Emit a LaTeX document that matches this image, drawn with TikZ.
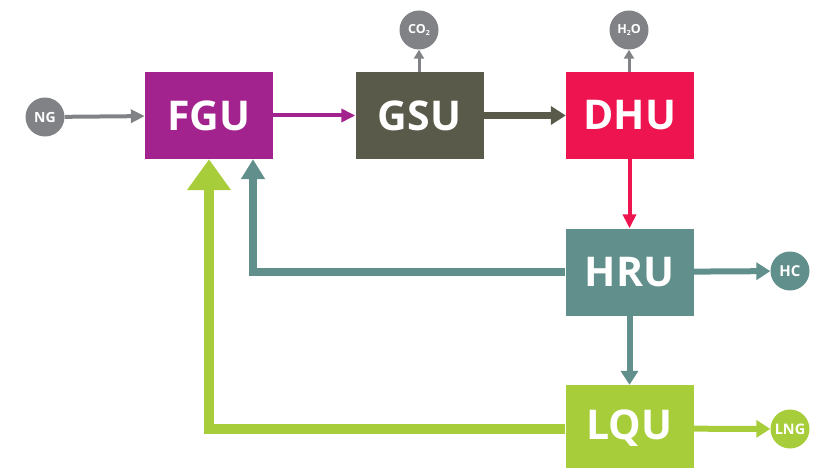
\documentclass[tikz,border=0pt]{standalone}
\usepackage{fontspec}
\setmainfont{Open Sans}
\usetikzlibrary{arrows.meta}
\definecolor{cfgu}{HTML}{A3238E}
\definecolor{cgsu}{HTML}{5A5A4B}
\definecolor{cdhu}{HTML}{EE1450}
\definecolor{chru}{HTML}{618F8C}
\definecolor{clqu}{HTML}{A7CE3A}
\definecolor{cgray}{HTML}{808285}
\newcommand{\subtwo}{\raisebox{-2.5pt}{\fontsize{7}{7}\selectfont 2}}
\tikzset{
  box/.style={minimum width=128pt, minimum height=87pt, inner sep=0pt, text=white,
    font=\fontsize{41}{41}\selectfont\bfseries},
  bub/.style={circle, minimum size=39pt, inner sep=0pt, text=white,
    font=\fontsize{14}{14}\selectfont\bfseries},
  thin/.style={line width=4pt, -{Triangle[length=14pt,width=13pt]}},
  mid/.style={line width=6pt, -{Triangle[length=14pt,width=17pt]}},
  tiny/.style={line width=3pt, -{Triangle[length=9pt,width=10pt]}},
}
\begin{document}
\begin{tikzpicture}[x=1pt,y=-1pt]
\useasboundingbox (0,0) rectangle (813,468);
\node[box, fill=cfgu] (fgu) at (209,115.5) {FGU};
\node[box, fill=cgsu] (gsu) at (419.5,115.5) {GSU};
\node[box, fill=cdhu] (dhu) at (630,115.5) {DHU};
\node[box, fill=chru] (hru) at (629.5,272) {HRU};
\node[box, fill=clqu] (lqu) at (629.5,428.5) {LQU};
\node[bub, fill=cgray] (ng) at (45,117) {NG};
\node[bub, fill=cgray, font=\fontsize{12.5}{12.5}\selectfont\bfseries] (co2) at (419,30) {CO\subtwo};
\node[bub, fill=cgray, font=\fontsize{12.5}{12.5}\selectfont\bfseries] (h2o) at (629,30) {H\subtwo O};
\node[bub, fill=chru, font=\fontsize{15}{15}\selectfont\bfseries] (hc) at (790,271) {HC};
\node[bub, fill=clqu, font=\fontsize{14.5}{14.5}\selectfont\bfseries] (lng) at (790,429) {LNG};
\draw[thin, cgray] (ng) -- (fgu);
\draw[thin, cfgu] (fgu) -- (gsu);
\draw[line width=7pt, cgsu, -{Triangle[length=15pt,width=18pt]}] (gsu) -- (dhu);
\draw[tiny, cgray] (gsu.north -| co2) -- (co2);
\draw[tiny, cgray] (dhu.north -| h2o) -- (h2o);
\draw[thin, cdhu] (dhu.south -| hru) -- (hru);
\draw[mid, chru] (hru) -- (hc);
\draw[mid, chru] (hru) -- (lqu);
\draw[mid, clqu] (lqu) -- (lng);
\draw[line width=8pt, chru, -{Triangle[length=20pt,width=23pt]}] (hru.west) -| ([xshift=44pt]fgu.south);
\draw[line width=10pt, clqu, -{Triangle[length=31pt,width=42pt]}] (lqu.west) -| (fgu.south);
\end{tikzpicture}
\end{document}
